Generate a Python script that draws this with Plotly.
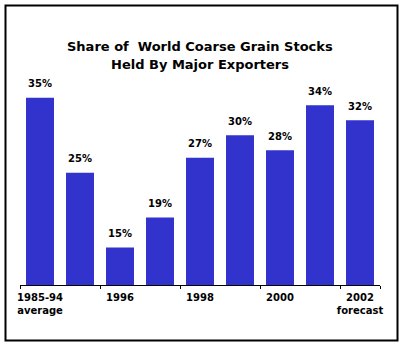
import plotly.graph_objects as go

categories = ["1985-94 average", "1995", "1996", "1997", "1998", "1999", "2000", "2001", "2002 forecast"]
shares = [35, 25, 15, 19, 27, 30, 28, 34, 32]
tick_categories = categories[::2]
tick_text = ["1985-94<br>average", "1996", "1998", "2000", "2002<br>forecast"]
title_lines = ["Share of  World Coarse Grain Stocks", "Held By Major Exporters"]

FONT = "DejaVu Sans"
bar_color = "#3232CC"

fig = go.Figure()
fig.add_trace(go.Bar(x=categories, y=shares, marker_color=bar_color, marker_line_width=0,
                     hoverinfo="skip"))

for i, v in enumerate(shares):
    fig.add_annotation(x=i, y=v, text=f"<b>{v}%</b>", showarrow=False, yanchor="middle",
                       yshift=14, font=dict(family=FONT, size=10, color="black"))

fig.add_annotation(xref="paper", yref="paper", x=0.5, y=(285 - 46) / 206, text=f"<b>{title_lines[0]}</b>",
                   showarrow=False, yanchor="middle", font=dict(family=FONT, size=13, color="black"))
fig.add_annotation(xref="paper", yref="paper", x=0.5, y=(285 - 64) / 206, text=f"<b>{title_lines[1]}</b>",
                   showarrow=False, yanchor="middle", font=dict(family=FONT, size=13, color="black"))

fig.add_shape(type="rect", xref="paper", yref="paper",
              x0=(5.5 - 20) / 360, x1=(397.5 - 20) / 360,
              y0=(285 - 340.5) / 206, y1=(285 - 5.5) / 206,
              line=dict(color="black", width=2), fillcolor="rgba(0,0,0,0)")

fig.update_layout(
    width=403, height=347,
    margin=dict(l=20, r=23, t=79, b=62),
    paper_bgcolor="white", plot_bgcolor="white",
    showlegend=False, bargap=0.3,
    xaxis=dict(type="category", categoryorder="array", categoryarray=categories,
               tickmode="array", tickvals=tick_categories, ticktext=[f"<b>{t}</b>" for t in tick_text],
               tickson="boundaries", ticks="outside", ticklen=3, tickcolor="black",
               showline=True, linecolor="black", linewidth=1, showgrid=False,
               tickfont=dict(family=FONT, size=10, color="black"), tickangle=0,
               ticklabelstandoff=3,
               range=[-0.5, len(categories) - 0.5]),
    yaxis=dict(visible=False, range=[10, 37.5]),
)

fig.write_html("out.html")
